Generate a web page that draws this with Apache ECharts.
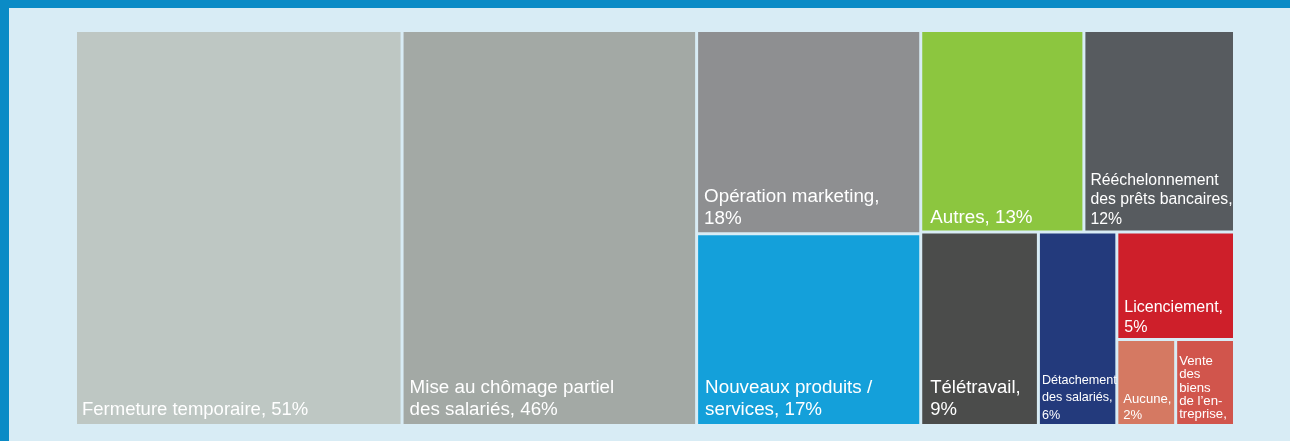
<!DOCTYPE html>
<html>
<head>
<meta charset="utf-8">
<script src="https://cdn.jsdelivr.net/npm/echarts@6/dist/echarts.min.js"></script>
<style>
  html, body { margin: 0; padding: 0; width: 1290px; height: 441px; overflow: hidden; background: #0a8bc6; }
  #chart { position: absolute; left: 9px; top: 8px; width: 1281px; height: 433px; background: #d8ecf5; }
</style>
</head>
<body>
<div id="chart"></div>
<script>
// Share of companies per measure taken (%)
const categories = [
  'Fermeture temporaire',
  'Mise au chômage partiel des salariés',
  'Opération marketing',
  'Nouveaux produits / services',
  'Autres',
  'Rééchelonnement des prêts bancaires',
  'Télétravail',
  'Détachement des salariés',
  'Licenciement',
  'Aucune',
  'Vente des biens de l’entreprise'
];
const shares = [51, 46, 18, 17, 13, 12, 9, 6, 5, 2, 2];

// Wrapped tile captions; {v} is replaced by the share
const captionTemplates = [
  'Fermeture temporaire, {v}%',
  'Mise au chômage partiel\ndes salariés, {v}%',
  'Opération marketing,\n{v}%',
  'Nouveaux produits /\nservices, {v}%',
  'Autres, {v}%',
  'Rééchelonnement\ndes prêts bancaires,\n{v}%',
  'Télétravail,\n{v}%',
  'Détachement\ndes salariés,\n{v}%',
  'Licenciement,\n{v}%',
  'Aucune,\n{v}%',
  'Vente\ndes\nbiens\nde l’en-\ntreprise,\n{v}%'
];

const tileColors = [
  '#bec7c3', '#a3a9a5', '#8e8f91', '#14a0da', '#8cc63f', '#575b5f',
  '#4b4c4b', '#233a7c', '#ce1f2a', '#d57962', '#d1554c'
];

// Caption typography: [fontSize, lineHeight, paddingBottom, paddingLeft]
const captionStyles = [
  [18.5, 22, 3, 5],
  [18.8, 22, 3, 6],
  [18.8, 22, 2, 6],
  [18.8, 22, 3, 7],
  [18.8, 22, 2, 8],
  [15.8, 19.7, 1, 5],
  [18.5, 22, 3, 8],
  [12.6, 17.5, 0, 2],
  [16, 19.5, 1, 6],
  [13.1, 16, 1, 5],
  [13.2, 13.2, 3, 2]
];

const tiles = categories.map((name, i) => {
  const st = captionStyles[i];
  return {
    name: name,
    value: shares[i],
    itemStyle: { color: tileColors[i] },
    label: {
      formatter: captionTemplates[i].replace('{v}', shares[i]),
      fontSize: st[0],
      lineHeight: st[1],
      padding: [st[2], 0, st[2], st[3]]
    }
  };
});

const chart = echarts.init(document.getElementById('chart'), null, { renderer: 'canvas' });
chart.setOption({
  animation: false,
  series: [{
    type: 'treemap',
    left: 68,
    top: 24,
    width: 1156,
    height: 392,
    roam: false,
    nodeClick: false,
    sort: false,
    squareRatio: 0.8,
    visibleMin: 0,
    breadcrumb: { show: false },
    itemStyle: { gapWidth: 3, borderWidth: 0, borderColor: 'transparent' },
    levels: [{ itemStyle: { gapWidth: 3, borderWidth: 0, borderColor: 'transparent' } }],
    label: {
      show: true,
      position: 'insideBottomLeft',
      distance: 0,
      color: '#ffffff',
      fontFamily: '"Liberation Sans", Arial, Helvetica, sans-serif',
      overflow: 'none'
    },
    upperLabel: { show: false },
    emphasis: { disabled: true },
    data: tiles
  }]
});
</script>
</body>
</html>
